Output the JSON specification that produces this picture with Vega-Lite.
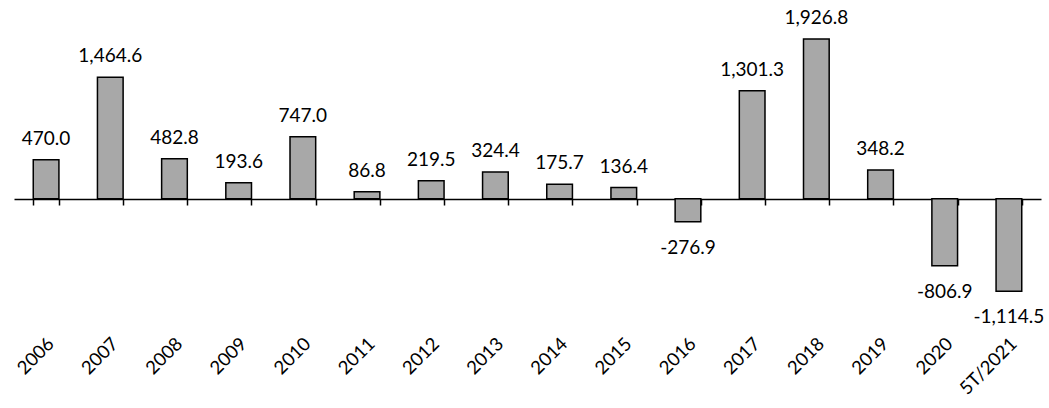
{
  "$schema": "https://vega.github.io/schema/vega-lite/v6.json",
  "autosize": "none",
  "width": 1027,
  "height": 307,
  "padding": {"left": 14, "top": 8, "right": 8, "bottom": 93},
  "background": "white",
  "config": {
    "view": {"stroke": null},
    "font": "Lato",
    "locale": {"number": {"decimal": ".", "thousands": ",", "grouping": [3], "currency": ["$", ""], "minus": "-"}}
  },
  "data": {"values": [
    {"year": "2006", "value": 470.0},
    {"year": "2007", "value": 1464.6},
    {"year": "2008", "value": 482.8},
    {"year": "2009", "value": 193.6},
    {"year": "2010", "value": 747.0},
    {"year": "2011", "value": 86.8},
    {"year": "2012", "value": 219.5},
    {"year": "2013", "value": 324.4},
    {"year": "2014", "value": 175.7},
    {"year": "2015", "value": 136.4},
    {"year": "2016", "value": -276.9},
    {"year": "2017", "value": 1301.3},
    {"year": "2018", "value": 1926.8},
    {"year": "2019", "value": 348.2},
    {"year": "2020", "value": -806.9},
    {"year": "5T/2021", "value": -1114.5}
  ]},
  "encoding": {
    "x": {
      "field": "year", "type": "nominal", "sort": null,
      "scale": {"paddingInner": 0.6, "paddingOuter": 0.3},
      "axis": {
        "title": null, "offset": -116, "tickBand": "extent",
        "domainColor": "black", "domainWidth": 1.5,
        "tickColor": "black", "tickWidth": 1.5, "tickSize": 6,
        "labelAngle": -45, "labelAlign": "right", "labelBaseline": "top",
        "labelOffset": -2, "labelPadding": 129,
        "labelFont": "Lato", "labelFontSize": 18.5, "labelColor": "black", "grid": false
      }
    },
    "y": {"field": "value", "type": "quantitative", "scale": {"domain": [-1400, 2300], "nice": false, "zero": true}, "axis": null}
  },
  "layer": [
    {"mark": {"type": "bar", "fill": "#a8a8a8", "stroke": "black", "strokeWidth": 1.5}},
    {
      "transform": [{"filter": "datum.value >= 0"}],
      "mark": {"type": "text", "baseline": "alphabetic", "dy": -15, "fontSize": 19, "font": "Lato", "color": "black"},
      "encoding": {"text": {"field": "value", "type": "quantitative", "format": ",.1f"}}
    },
    {
      "transform": [{"filter": "datum.value < 0"}],
      "mark": {"type": "text", "baseline": "alphabetic", "dy": 32, "fontSize": 19, "font": "Lato", "color": "black"},
      "encoding": {"text": {"field": "value", "type": "quantitative", "format": ",.1f"}}
    }
  ]
}
